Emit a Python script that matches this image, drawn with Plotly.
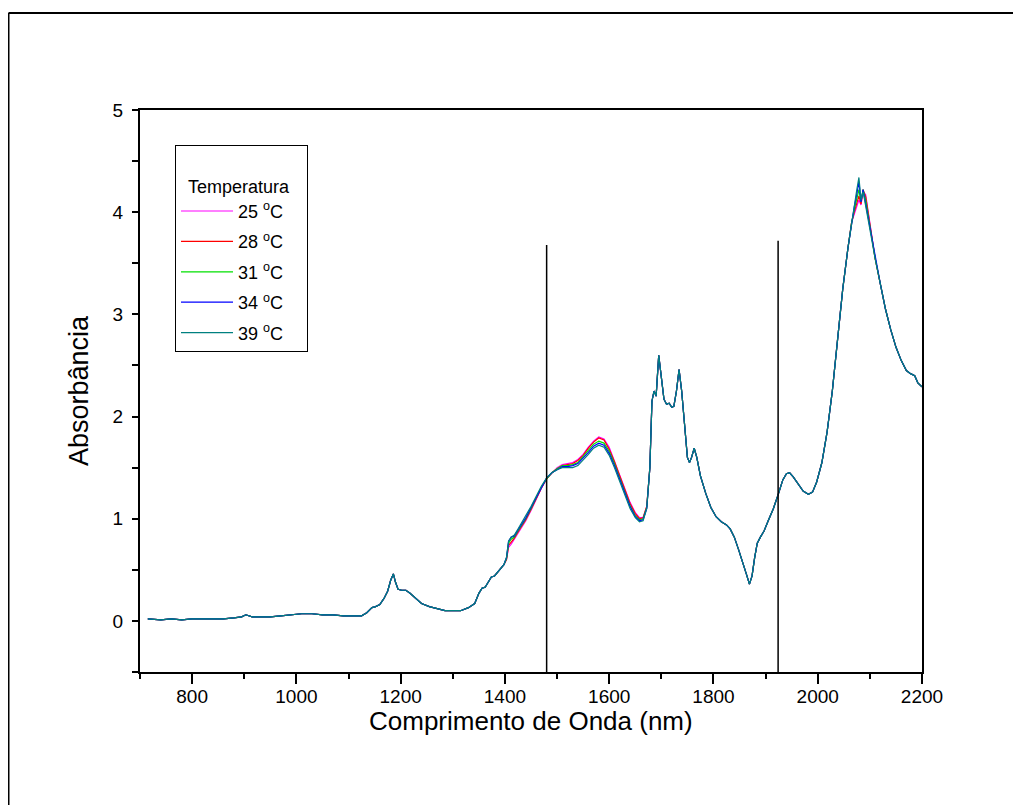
import plotly.graph_objects as go

# ---------------- data ----------------
wl_a = [715, 740, 760, 780, 800, 820, 840, 860, 880, 895, 903, 915, 930, 950, 970, 990, 1010, 1030, 1050,
        1070, 1090, 1110, 1125, 1135, 1145, 1152, 1160, 1168, 1175, 1181, 1186, 1190, 1195, 1202, 1210,
        1218, 1228, 1240, 1255, 1270, 1285, 1300, 1315, 1330, 1342, 1350, 1356, 1362, 1368, 1374, 1380,
        1386, 1392, 1398]
abs_a = [0.02, 0.01, 0.02, 0.01, 0.02, 0.02, 0.02, 0.02, 0.03, 0.04, 0.06, 0.04, 0.04, 0.04, 0.05, 0.06, 0.07,
         0.07, 0.06, 0.06, 0.05, 0.05, 0.05, 0.08, 0.13, 0.14, 0.16, 0.22, 0.29, 0.40, 0.46, 0.38, 0.31,
         0.30, 0.30, 0.27, 0.22, 0.17, 0.14, 0.12, 0.10, 0.10, 0.10, 0.13, 0.17, 0.27, 0.32, 0.33, 0.38,
         0.43, 0.44, 0.48, 0.52, 0.55]

wl_b = [1403, 1407, 1412, 1418, 1425, 1432, 1440, 1450, 1460, 1470, 1480, 1490, 1500, 1510, 1520, 1530,
        1540, 1550, 1560, 1570, 1580, 1590, 1600, 1610, 1620, 1630, 1640, 1650, 1658, 1665, 1672]
abs_b_25 = [0.60, 0.72, 0.75, 0.80, 0.86, 0.92, 0.98, 1.08, 1.19, 1.30, 1.39, 1.45, 1.50, 1.53, 1.54, 1.55,
            1.58, 1.63, 1.70, 1.76, 1.80, 1.78, 1.70, 1.57, 1.43, 1.29, 1.16, 1.06, 1.01, 1.01, 1.12]
abs_b_28 = [0.60, 0.74, 0.77, 0.81, 0.87, 0.93, 0.99, 1.09, 1.20, 1.30, 1.39, 1.45, 1.49, 1.52, 1.53, 1.54,
            1.57, 1.62, 1.69, 1.75, 1.79, 1.77, 1.68, 1.56, 1.42, 1.28, 1.15, 1.05, 1.00, 1.01, 1.12]
abs_b_31 = [0.61, 0.76, 0.80, 0.82, 0.88, 0.94, 1.00, 1.10, 1.20, 1.31, 1.39, 1.45, 1.49, 1.52, 1.52, 1.53,
            1.55, 1.61, 1.67, 1.73, 1.76, 1.74, 1.66, 1.54, 1.40, 1.26, 1.13, 1.03, 0.99, 1.00, 1.11]
abs_b_34 = [0.62, 0.78, 0.82, 0.83, 0.89, 0.95, 1.01, 1.11, 1.21, 1.31, 1.40, 1.45, 1.48, 1.51, 1.51, 1.52,
            1.54, 1.59, 1.65, 1.71, 1.74, 1.72, 1.64, 1.52, 1.38, 1.24, 1.12, 1.02, 0.98, 0.99, 1.10]
abs_b_39 = [0.62, 0.78, 0.82, 0.84, 0.90, 0.96, 1.02, 1.12, 1.22, 1.32, 1.40, 1.45, 1.48, 1.50, 1.50, 1.50,
            1.52, 1.57, 1.63, 1.69, 1.72, 1.70, 1.62, 1.50, 1.36, 1.22, 1.10, 1.01, 0.97, 0.98, 1.10]

wl_c = [1678, 1682, 1686, 1690, 1695, 1700, 1705, 1710, 1715, 1720, 1724, 1729, 1734, 1739, 1745, 1750,
        1754, 1758, 1763, 1768, 1775, 1785, 1795, 1805, 1815, 1825, 1832, 1840, 1848, 1856, 1863, 1869,
        1874, 1879, 1884, 1890, 1897, 1905, 1915, 1925, 1933, 1940, 1946, 1953, 1962, 1972, 1982, 1990,
        1998, 2008, 2018, 2028, 2038, 2048, 2058, 2065]
abs_c = [1.50, 2.15, 2.25, 2.20, 2.60, 2.35, 2.17, 2.12, 2.13, 2.09, 2.10, 2.25, 2.46, 2.25, 1.85, 1.60,
         1.55, 1.60, 1.69, 1.60, 1.42, 1.25, 1.11, 1.02, 0.97, 0.94, 0.90, 0.82, 0.70, 0.58, 0.46, 0.36,
         0.44, 0.62, 0.76, 0.82, 0.88, 0.98, 1.10, 1.25, 1.38, 1.44, 1.45, 1.41, 1.34, 1.27, 1.24, 1.26,
         1.36, 1.55, 1.85, 2.25, 2.75, 3.25, 3.65, 3.90]

wl_d = [2070, 2075, 2079, 2083, 2087, 2092, 2097, 2102]
abs_d_25 = [3.98, 4.05, 4.12, 4.07, 4.20, 4.17, 4.01, 3.81]
abs_d_28 = [4.00, 4.08, 4.16, 4.08, 4.22, 4.15, 3.99, 3.80]
abs_d_31 = [4.02, 4.12, 4.22, 4.10, 4.22, 4.12, 3.97, 3.79]
abs_d_34 = [4.05, 4.18, 4.30, 4.10, 4.22, 4.08, 3.94, 3.77]
abs_d_39 = [4.08, 4.22, 4.34, 4.12, 4.20, 4.05, 3.92, 3.76]

wl_e = [2110, 2120, 2130, 2140, 2150, 2160, 2170, 2178, 2186, 2192, 2198, 2200]
abs_e = [3.55, 3.30, 3.05, 2.85, 2.68, 2.55, 2.45, 2.42, 2.40, 2.33, 2.30, 2.29]

series_names = ["25 <sup>o</sup>C", "28 <sup>o</sup>C", "31 <sup>o</sup>C", "34 <sup>o</sup>C", "39 <sup>o</sup>C"]
series_colors = ["#FF00FF", "#FF0000", "#00E000", "#0000FF", "#008080"]
series_b = [abs_b_25, abs_b_28, abs_b_31, abs_b_34, abs_b_39]
series_d = [abs_d_25, abs_d_28, abs_d_31, abs_d_34, abs_d_39]

marker_lines_x = [1480, 1924]
marker_lines_top = [3.68, 3.72]
marker_lines_bottom = [-0.5, -0.5]

x_range = [700, 2200]
y_range = [-0.5, 5]

x_title = "Comprimento de Onda (nm)"
y_title = "Absorbância"
legend_title = "Temperatura"

# ---------------- figure ----------------
wl = wl_a + wl_b + wl_c + wl_d + wl_e
fig = go.Figure()
for i, name in enumerate(series_names):
    vals = abs_a + series_b[i] + abs_c + series_d[i] + abs_e
    fig.add_trace(go.Scatter(x=wl, y=vals, mode="lines", name=name,
                             line=dict(color=series_colors[i], width=1.2),
                             legendgroup="g%d" % i))

for xv, yt, yb in zip(marker_lines_x, marker_lines_top, marker_lines_bottom):
    fig.add_trace(go.Scatter(x=[xv, xv], y=[yb, yt], mode="lines", showlegend=False,
                             line=dict(color="black", width=1.5), hoverinfo="skip"))

FONT = "Liberation Sans, Arial, sans-serif"
# page has an 8px body margin, so the figure is shifted by 8px
W, H = 1013, 797
L, R, T, B = 132, 914, 102, 664

def px(xp):
    return (xp - L) / (R - L)

def py(yp):
    return (B - yp) / (B - T)

fig.update_layout(
    width=W, height=H,
    margin=dict(l=L, r=W - R, t=T, b=H - B),
    paper_bgcolor="white", plot_bgcolor="white",
    font=dict(family=FONT, color="black"),
    showlegend=True,
    legend=dict(x=px(167), y=py(137), xanchor="left", yanchor="top",
                bordercolor="black", borderwidth=1, bgcolor="white",
                font=dict(family=FONT, size=18, color="black"),
                title=dict(text="<br>&nbsp;&nbsp;" + legend_title + "&nbsp;&nbsp;&nbsp;",
                           font=dict(family=FONT, size=18)),
                tracegroupgap=4, itemwidth=52),
    xaxis=dict(range=x_range, tickmode="linear", tick0=800, dtick=200,
               ticks="outside", ticklen=10, tickwidth=1.5, tickcolor="black",
               minor=dict(ticks="outside", dtick=100, tick0=700, ticklen=5, tickwidth=1.5, tickcolor="black"),
               showline=True, linecolor="black", linewidth=2, mirror=True,
               showgrid=False, zeroline=False, ticklabelstandoff=-4,
               tickfont=dict(family=FONT, size=19)),
    yaxis=dict(range=y_range, tickmode="linear", tick0=0, dtick=1,
               ticks="outside", ticklen=6, tickwidth=1.5, tickcolor="black",
               minor=dict(ticks="outside", dtick=0.5, tick0=0, ticklen=6, tickwidth=1.5, tickcolor="black"),
               showline=True, linecolor="black", linewidth=2, mirror=True,
               showgrid=False, zeroline=False, ticklabelstandoff=5,
               tickfont=dict(family=FONT, size=19),
               title=dict(text=y_title, font=dict(family=FONT, size=27), standoff=16)),
    xaxis2=dict(range=x_range, overlaying="x", anchor="y", side="top",
                tickmode="linear", tick0=800, dtick=200, ticks="inside", ticklen=4, tickwidth=1.5,
                tickcolor="black",
                minor=dict(ticks="inside", dtick=100, tick0=700, ticklen=3, tickwidth=1.5, tickcolor="black"),
                showticklabels=False, showline=False, showgrid=False, zeroline=False),
    yaxis2=dict(range=y_range, overlaying="y", anchor="x", side="right",
                tickmode="linear", tick0=0, dtick=1, ticks="inside", ticklen=4, tickwidth=1.5,
                tickcolor="black",
                minor=dict(ticks="inside", dtick=0.5, tick0=0, ticklen=4, tickwidth=1.5, tickcolor="black"),
                showticklabels=False, showline=False, showgrid=False, zeroline=False),
)

# x axis title placed as an annotation to match the reference position
fig.add_annotation(text=x_title, xref="paper", yref="paper", x=0.5, y=py(713),
                   xanchor="center", yanchor="middle", showarrow=False,
                   font=dict(family=FONT, size=26, color="black"))

# outer frame (top and left edges visible in the reference)
fig.add_shape(type="line", xref="paper", yref="paper", x0=px(0.5), x1=px(1030), y0=py(5), y1=py(5),
              line=dict(color="black", width=2))
fig.add_shape(type="line", xref="paper", yref="paper", x0=px(0.5), x1=px(0.5), y0=py(5), y1=py(815),
              line=dict(color="black", width=2))

fig.write_html("out.html")
